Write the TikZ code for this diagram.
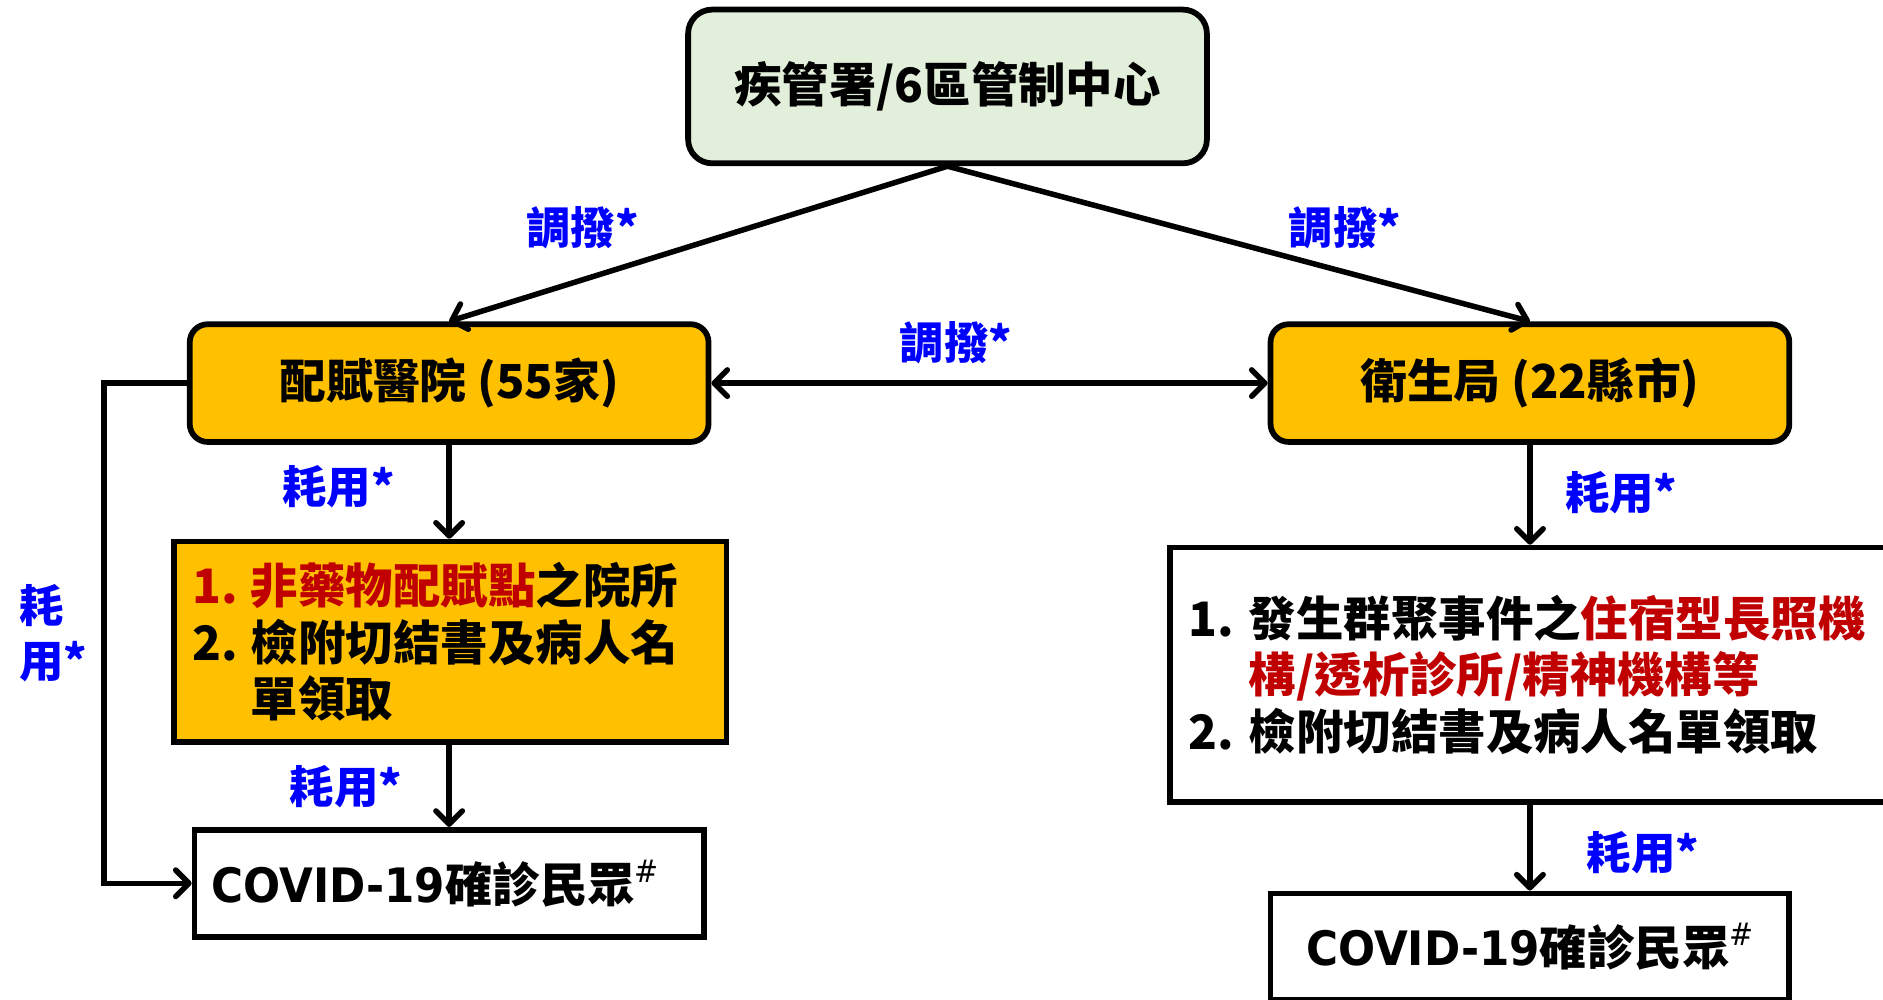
\documentclass[tikz,border=0pt]{standalone}
\usepackage{fontspec}
\setmainfont{Noto Sans CJK TC}
\newfontfamily\latfont{DejaVu Sans}[FakeStretch=0.92]
\usetikzlibrary{arrows.meta}
\definecolor{myred}{HTML}{C00000}
\definecolor{myorange}{HTML}{FFC000}
\definecolor{mygreen}{HTML}{E2EFDA}
\definecolor{myblue}{HTML}{0000FF}
\tikzset{
  box/.style={draw=black, line width=4.8pt, inner sep=0pt, font=\bfseries\fontsize{39.5}{47}\selectfont},
  rbox/.style={box, rounded corners=15pt},
  conn/.style={line width=4.6pt, line cap=round},
  lbl/.style={text=myblue, inner sep=0pt, font=\bfseries\fontsize{37}{46}\selectfont},
  >={Straight Barb[length=11pt,width=22pt,round]}
}
\newcommand{\covidtext}{{\latfont\bfseries COVID-19}確診民眾\raisebox{0.42em}{\latfont\mdseries\fontsize{26}{26}\selectfont\#}}
\begin{document}
\begin{tikzpicture}[x=1pt,y=-1pt]
\useasboundingbox (0,0) rectangle (1568,832);
\clip (0,0) rectangle (1568,832);
\fill[white] (0,0) rectangle (1568,832);

% boxes
\node[rbox, rounded corners=20pt, fill=mygreen, minimum width=432pt, minimum height=128pt] (top) at (789,72) {疾管署/6區管制中心};
\node[rbox, fill=myorange, minimum width=432pt, minimum height=98pt, font=\bfseries\fontsize{39}{47}\selectfont] (lbox) at (374,319) {配賦醫院 (55家)};
\node[rbox, fill=myorange, minimum width=432pt, minimum height=98pt, font=\bfseries\fontsize{39}{47}\selectfont] (rbox) at (1274,319) {衛生局 (22縣市)};

\node[box, fill=myorange, minimum width=460pt, minimum height=167pt, text width=430pt, align=left] (b2) at (375,534.5)
  {\textcolor{myred}{\makebox[49pt][l]{1.}非藥物配賦點}之院所\\
   \makebox[49pt][l]{2.}檢附切結書及病人名\\
   \hspace*{49pt}單領取};

\node[box, fill=white, minimum width=424pt, minimum height=89pt, text width=396pt, align=left] (b3) at (374,735.5)
  {\covidtext};

\node[box, fill=white, minimum width=600pt, minimum height=212pt, text width=568pt, align=left] (b4) at (1274,562)
  {\makebox[50pt][l]{1.}發生群聚事件之\textcolor{myred}{住宿型長照機}\\
   \hspace*{50pt}\textcolor{myred}{構/透析診所/精神機構等}\\
   \makebox[50pt][l]{2.}檢附切結書及病人名單領取};

\node[box, fill=white, minimum width=432pt, minimum height=89pt] (b5) at (1274,788.5)
  {\covidtext};

% connectors
\draw[conn, ->] (top.south) -- (lbox.north);
\draw[conn, ->] (top.south) -- (rbox.north);
\draw[conn, <->] (lbox.east) -- (rbox.west);
\draw[conn, ->] (lbox.south) -- (lbox.south |- b2.north);
\draw[conn, ->] (b2.south -| lbox.south) -- (lbox.south |- b3.north);
\draw[conn, ->] (lbox.west) -- ++(-69,0) |- (b3.west);
\draw[conn, ->] (rbox.south) -- (b4.north);
\draw[conn, ->] (b4.south) -- (b5.north);

% labels
\node[lbl] (l1) at (485,190) {調撥*};
\node[lbl] (l2) at (1120,190) {調撥*};
\node[lbl] (l3) at (796,285) {調撥*};
\node[lbl] (l4) at (282,405) {耗用*};
\node[lbl] (l5) at (288,655) {耗用*};
\node[lbl] (l6) at (1350,410) {耗用*};
\node[lbl] (l7) at (1368,710) {耗用*};
\node[lbl, align=left, anchor=west] (l8) at (16,527) {耗\\用*};
\end{tikzpicture}
\end{document}
